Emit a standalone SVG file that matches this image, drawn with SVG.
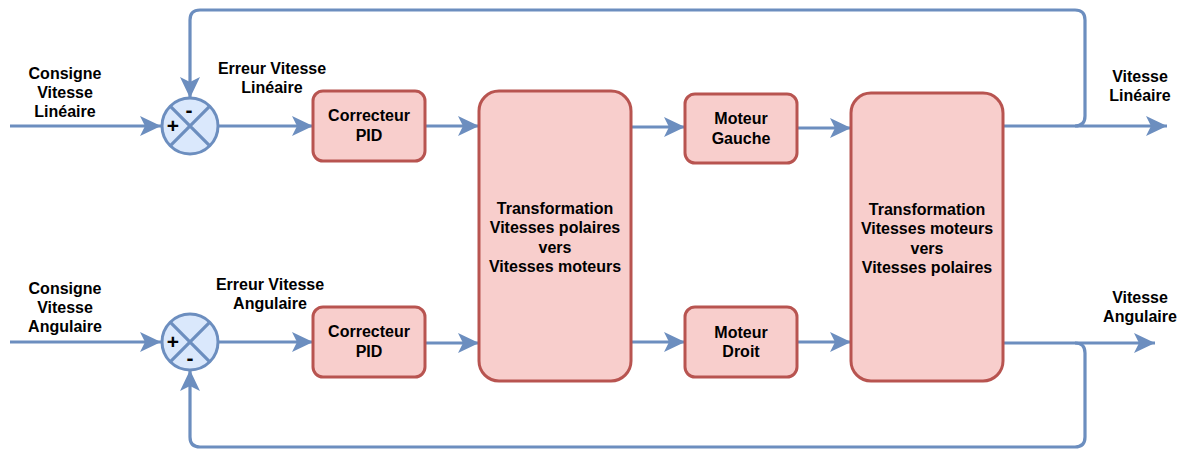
<svg xmlns="http://www.w3.org/2000/svg" width="1182" height="449" viewBox="0 0 1182 449">
  <style>
    .block { fill: #f8cecc; stroke: #b85450; stroke-width: 3; }
    .sum { fill: #dae8fc; stroke: #6c8ebf; stroke-width: 3; }
    .wire { fill: none; stroke: #6c8ebf; stroke-width: 3.2; }
    .arrow { marker-end: url(#head); }
    text { font-family: "Liberation Sans", Arial, sans-serif; font-weight: bold; font-size: 16px; fill: #000; text-anchor: middle; }
    .sign { font-size: 21px; }
  </style>
  <defs>
    <marker id="head" markerUnits="userSpaceOnUse" markerWidth="24" markerHeight="24" viewBox="0 0 24 24" refX="22" refY="12" orient="auto">
      <path d="M1,2 L22,12 L1,22 L6,12 Z" fill="#6c8ebf"/>
    </marker>
  </defs>

  <!-- connectors -->
  <g id="connectors">
    <path class="wire arrow" d="M10,126 H161"/>
    <path class="wire arrow" d="M218,126 H313"/>
    <path class="wire arrow" d="M425,126 H479"/>
    <path class="wire arrow" d="M631,127 H685"/>
    <path class="wire arrow" d="M797,128 H851"/>
    <path class="wire arrow" d="M1003,126 H1167"/>
    <path class="wire arrow" d="M1075,126 Q1085,126 1085,116 V20 Q1085,10 1075,10 H200 Q190,10 190,20 V98"/>

    <path class="wire arrow" d="M10,342 H161"/>
    <path class="wire arrow" d="M218,342 H313"/>
    <path class="wire arrow" d="M425,343 H479"/>
    <path class="wire arrow" d="M631,342 H685"/>
    <path class="wire arrow" d="M797,342 H851"/>
    <path class="wire arrow" d="M1003,343 H1155"/>
    <path class="wire arrow" d="M1075,343 Q1085,343 1085,353 V437 Q1085,447 1075,447 H200 Q190,447 190,437 V370"/>
  </g>

  <!-- summing junctions -->
  <g id="sum-lin">
    <circle class="sum" cx="190" cy="126" r="28"/>
    <path class="wire" d="M170.2,106.2 L209.8,145.8 M209.8,106.2 L170.2,145.8"/>
    <text class="sign" x="173" y="133">+</text>
    <text class="sign" x="189" y="117">-</text>
  </g>
  <g id="sum-ang">
    <circle class="sum" cx="190" cy="342" r="28"/>
    <path class="wire" d="M170.2,322.2 L209.8,361.8 M209.8,322.2 L170.2,361.8"/>
    <text class="sign" x="173" y="349">+</text>
    <text class="sign" x="190" y="365">-</text>
  </g>

  <!-- blocks -->
  <g id="pid-lin">
    <rect class="block" x="313" y="91" width="112" height="70" rx="10"/>
    <text x="369" y="121">Correcteur</text>
    <text x="369" y="141">PID</text>
  </g>
  <g id="pid-ang">
    <rect class="block" x="313" y="307" width="112" height="70" rx="10"/>
    <text x="369" y="337">Correcteur</text>
    <text x="369" y="357">PID</text>
  </g>
  <g id="polar-to-motor">
    <rect class="block" x="479" y="91" width="152" height="290" rx="20"/>
    <text x="555" y="214">Transformation</text>
    <text x="555" y="233">Vitesses polaires</text>
    <text x="555" y="253">vers</text>
    <text x="555" y="272">Vitesses moteurs</text>
  </g>
  <g id="motor-left">
    <rect class="block" x="685" y="94" width="112" height="69" rx="10"/>
    <text x="741" y="124">Moteur</text>
    <text x="741" y="144">Gauche</text>
  </g>
  <g id="motor-right">
    <rect class="block" x="685" y="307" width="112" height="70" rx="10"/>
    <text x="741" y="338">Moteur</text>
    <text x="741" y="357">Droit</text>
  </g>
  <g id="motor-to-polar">
    <rect class="block" x="851" y="93" width="152" height="288" rx="20"/>
    <text x="927" y="215">Transformation</text>
    <text x="927" y="234">Vitesses moteurs</text>
    <text x="927" y="254">vers</text>
    <text x="927" y="273">Vitesses polaires</text>
  </g>

  <!-- signal labels -->
  <g id="labels">
    <text x="65" y="79">Consigne</text>
    <text x="65" y="98">Vitesse</text>
    <text x="65" y="117">Linéaire</text>
    <text x="272" y="74">Erreur Vitesse</text>
    <text x="272" y="93">Linéaire</text>
    <text x="1140" y="82">Vitesse</text>
    <text x="1140" y="101">Linéaire</text>
    <text x="65" y="294">Consigne</text>
    <text x="65" y="313">Vitesse</text>
    <text x="65" y="332">Angulaire</text>
    <text x="270" y="290">Erreur Vitesse</text>
    <text x="270" y="309">Angulaire</text>
    <text x="1140" y="303">Vitesse</text>
    <text x="1140" y="322">Angulaire</text>
  </g>
</svg>
